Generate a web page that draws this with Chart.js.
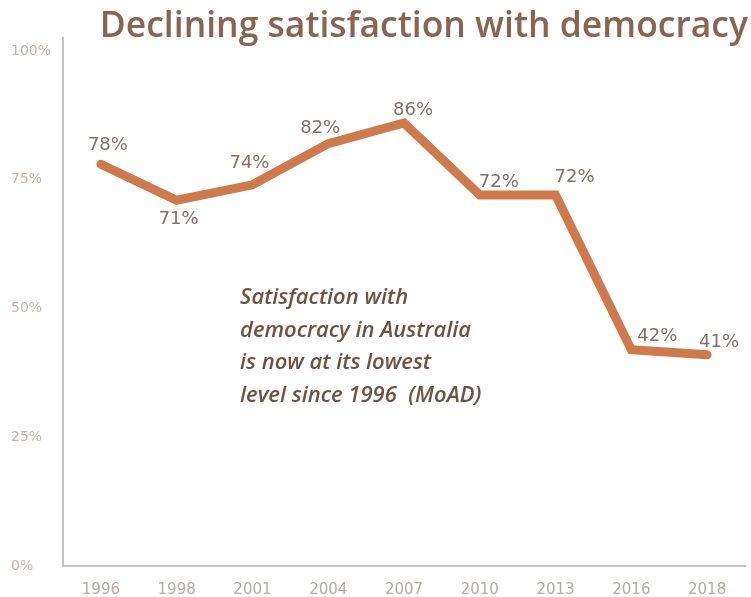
<!DOCTYPE html>
<html>
<head>
<meta charset="utf-8">
<script src="https://cdn.jsdelivr.net/npm/chart.js@4.4.1/dist/chart.umd.min.js"></script>
<style>
  html, body { margin: 0; padding: 0; background: #ffffff; }
  #wrap { width: 751px; height: 597px; position: relative; }
</style>
</head>
<body>
<div id="wrap"><canvas id="c" width="751" height="597"></canvas></div>
<script>
const years = ['1996', '1998', '2001', '2004', '2007', '2010', '2013', '2016', '2018'];
const satisfaction = [78, 71, 74, 82, 86, 72, 72, 42, 41];
const yTicks = [0, 25, 50, 75, 100];
const titleText = 'Declining satisfaction with democracy';
const noteLines = ['Satisfaction with', 'democracy in Australia', 'is now at its lowest', 'level since 1996  (MoAD)'];

// label offsets (px) relative to each point
const labelDx = [7, 2, -3, -8, 9, 19, 19, 26, 12];
const labelDy = [-19, 19, -21, -15, -13, -13, -18, -13, -12];

const labelPlugin = {
  id: 'valueLabels',
  afterDatasetsDraw(chart) {
    const ctx = chart.ctx;
    const meta = chart.getDatasetMeta(0);
    ctx.save();
    // title
    ctx.font = '600 35.5px "Open Sans"';
    ctx.fillStyle = '#8a6450';
    ctx.textAlign = 'right';
    ctx.textBaseline = 'middle';
    ctx.fillText(titleText, chart.width - 3, 27);

    ctx.font = '18px "DejaVu Sans"';
    ctx.fillStyle = '#857067';
    ctx.textAlign = 'center';
    ctx.textBaseline = 'middle';
    meta.data.forEach((pt, i) => {
      ctx.fillText(satisfaction[i] + '%', pt.x + labelDx[i], pt.y + labelDy[i]);
    });
    // annotation
    const ca = chart.chartArea;
    ctx.font = 'italic 600 22px "Open Sans"';
    ctx.fillStyle = '#6e5343';
    ctx.textAlign = 'left';
    noteLines.forEach((t, i) => {
      ctx.fillText(t, ca.left + 177, 298 + i * 32.6);
    });
    ctx.restore();
  }
};

new Chart(document.getElementById('c'), {
  type: 'line',
  data: {
    labels: years,
    datasets: [{
      data: satisfaction,
      borderColor: '#cf7a4d',
      borderWidth: 9,
      borderCapStyle: 'round',
      borderJoinStyle: 'miter',
      pointRadius: 0,
      tension: 0,
      fill: false
    }]
  },
  options: {
    responsive: false,
    animation: false,
    layout: { padding: { left: 11, right: 6, top: 38, bottom: 0 } },
    plugins: {
      legend: { display: false },
      tooltip: { enabled: false },
      title: { display: false }
    },
    scales: {
      x: {
        offset: true,
        afterFit(scale) { scale.height = 31; },
        grid: { display: false, drawTicks: false },
        border: { display: true, color: '#c4c4c4', width: 2 },
        ticks: { color: '#b8a9a3', font: { family: '"DejaVu Sans"', size: 15 }, padding: 15, maxRotation: 0 }
      },
      y: {
        min: 0,
        max: 102.5,
        afterBuildTicks(scale) { scale.ticks = yTicks.map(v => ({ value: v })); },
        afterFit(scale) { scale.width = 52; },
        grid: { display: false, drawTicks: false },
        border: { display: true, color: '#c4c4c4', width: 2 },
        ticks: {
          color: '#c8b4ac',
          font: { family: '"DejaVu Sans"', size: 14 },
          crossAlign: 'far',
          padding: 8,
          callback: v => v + '%'
        }
      }
    }
  },
  plugins: [labelPlugin]
});
</script>
</body>
</html>
